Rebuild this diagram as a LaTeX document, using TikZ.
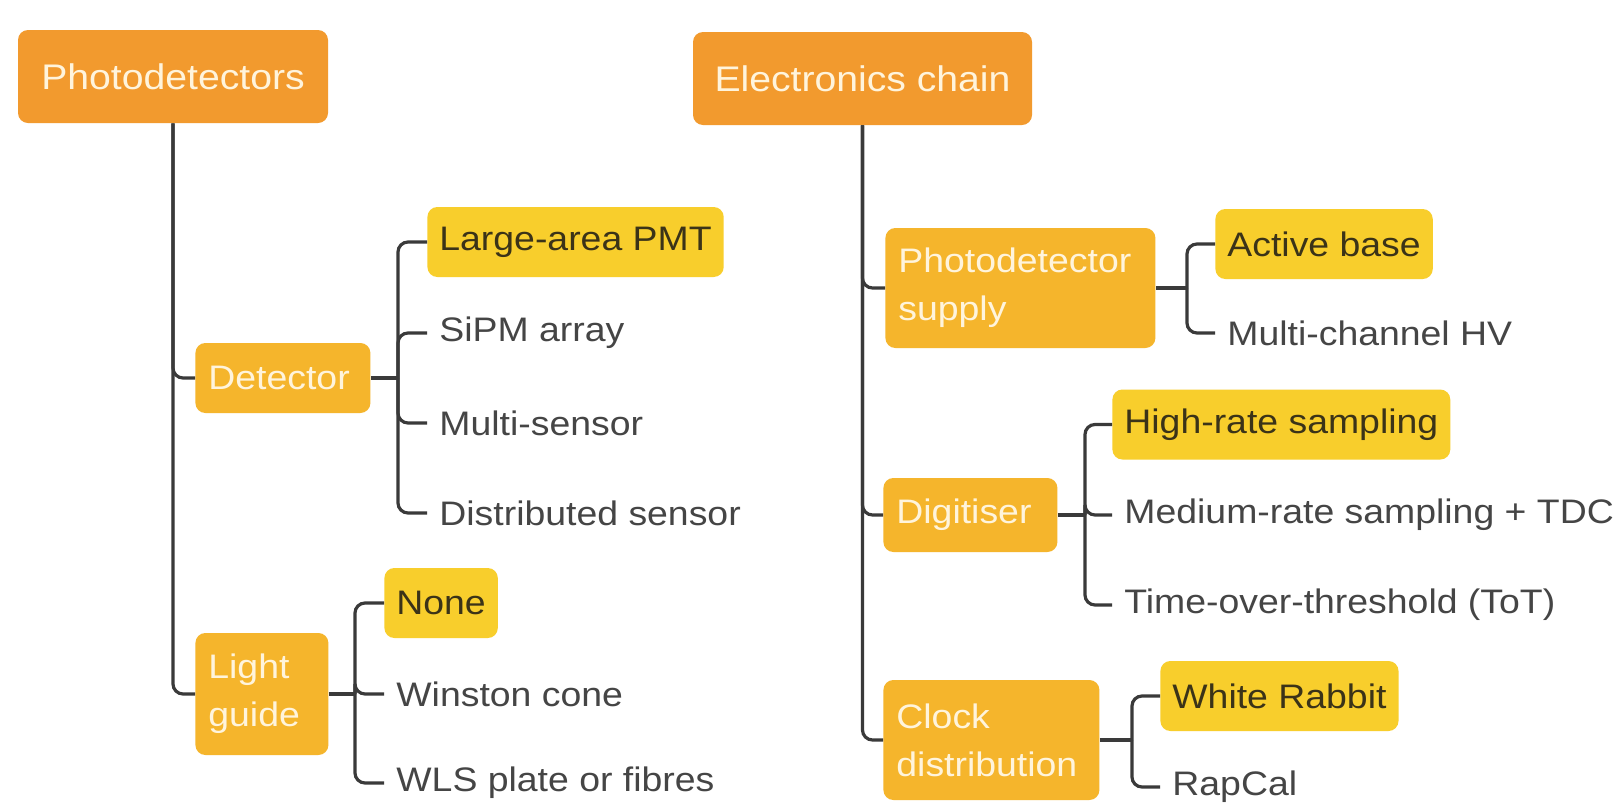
\documentclass[tikz,border=0pt]{standalone}
\usepackage{fontspec}
\setmainfont{Liberation Sans}[FakeStretch=1.1]
\definecolor{topc}{HTML}{F29A2E}
\definecolor{midc}{HTML}{F5B52C}
\definecolor{leafc}{HTML}{F8CE2C}
\definecolor{boxtext}{HTML}{FFF4DC}
\definecolor{leafdark}{HTML}{3B3318}
\definecolor{plainc}{HTML}{454545}
\definecolor{linec}{HTML}{3A3A3A}
\begin{document}
\begin{tikzpicture}[x=0.5pt,y=-0.5pt,
  conn/.style={draw=linec, line width=1.6pt, rounded corners=5pt},
  base/.style={font=\fontsize{17}{24}\selectfont, rounded corners=5pt},
  topbox/.style={base, font=\fontsize{17.8}{24}\selectfont, fill=topc, text=boxtext, minimum height=46.5pt, inner sep=0pt},
  midbox/.style={base, anchor=west, fill=midc, text=boxtext, align=left, inner xsep=6.5pt, inner ysep=0pt},
  leafbox/.style={base, anchor=west, fill=leafc, text=leafdark, minimum height=35pt, inner xsep=6pt, inner ysep=0pt},
  leafplain/.style={base, anchor=west, text=plainc, inner xsep=6pt, inner ysep=0pt, minimum height=35pt}]

\fill[white] (0,0) rectangle (1617,804);
\useasboundingbox (0,0) rectangle (1617,804);

% top level
\node[topbox, minimum width=155pt] (pd) at (173,76.5) {Photodetectors};
\node[topbox, minimum width=169.5pt] (ec) at (862.5,78.5) {Electronics chain};

% second level
\node[midbox, text width=74.5pt, minimum height=35pt] (det) at (195,378) {Detector};
\node[midbox, text width=53.5pt, minimum height=61pt] (lg) at (195,694) {Light\\guide};
\node[midbox, text width=122pt, minimum height=60pt] (ps) at (885,288) {Photodetector\\supply};
\node[midbox, text width=74pt, minimum height=37pt] (dig) at (883,515) {Digitiser};
\node[midbox, text width=95pt, minimum height=60pt] (clk) at (883,740) {Clock\\distribution};

% leaves
\node[leafbox] (l1) at (427,242) {Large-area PMT};
\node[leafplain] (l2) at (427,333) {SiPM array};
\node[leafplain] (l3) at (427,423) {Multi-sensor};
\node[leafplain] (l4) at (427,513) {Distributed sensor};
\node[leafbox] (g1) at (384,603) {None};
\node[leafplain] (g2) at (384,694) {Winston cone};
\node[leafplain] (g3) at (384,783) {WLS plate or fibres};
\node[leafbox] (s1) at (1215,244) {Active base};
\node[leafplain] (s2) at (1215,333) {Multi-channel HV};
\node[leafbox] (d1) at (1112,424.5) {High-rate sampling};
\node[leafplain] (d2) at (1112,515) {Medium-rate sampling + TDC};
\node[leafplain] (d3) at (1112,605) {Time-over-threshold (ToT)};
\node[leafbox] (c1) at (1160,696) {White Rabbit};
\node[leafplain] (c2) at (1160,787) {RapCal};

% junctions
\coordinate (jd) at (398,378);
\coordinate (jg) at (355,694);
\coordinate (js) at (1187,288);
\coordinate (jdg) at (1085,515);
\coordinate (jc) at (1132,740);

% trunks
\draw[conn] (pd.south) |- (det.west);
\draw[conn] (pd.south) |- (lg.west);
\draw[conn] (ec.south) |- (ps.west);
\draw[conn] (ec.south) |- (dig.west);
\draw[conn] (ec.south) |- (clk.west);

% branches
\draw[conn] (det.east) -- (jd);
\foreach \n in {l1,l2,l3,l4} \draw[conn] (jd) |- (\n.west);
\draw[conn] (lg.east) -- (jg);
\foreach \n in {g1,g2,g3} \draw[conn] (jg) |- (\n.west);
\draw[conn] (ps.east) -- (js);
\foreach \n in {s1,s2} \draw[conn] (js) |- (\n.west);
\draw[conn] (dig.east) -- (jdg);
\foreach \n in {d1,d2,d3} \draw[conn] (jdg) |- (\n.west);
\draw[conn] (clk.east) -- (jc);
\foreach \n in {c1,c2} \draw[conn] (jc) |- (\n.west);
\end{tikzpicture}
\end{document}
